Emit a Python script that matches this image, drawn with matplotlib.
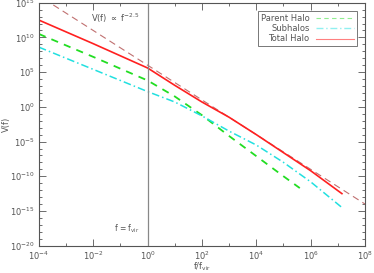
import numpy as np
import matplotlib
matplotlib.use('Agg')
import matplotlib.pyplot as plt
from matplotlib.lines import Line2D
from matplotlib.ticker import FixedLocator, LogFormatterSciNotation

# Valores (log10)
logf_total = [-4, -2, 0, 1, 2, 3, 4, 5, 6, 7.15]
logV_total = [12.5, 9.1, 5.6, 3.1, 0.7, -1.5, -4.0, -6.6, -9.2, -12.5]

logf_parent = [-4, -2, 0, 1, 2, 3, 4, 5, 5.6]
logV_parent = [10.5, 7.2, 3.8, 1.5, -1.2, -4.2, -7.1, -10.0, -11.7]

logf_sub = [-4, -2, 0, 1, 2, 3, 4, 5, 6, 7.15]
logV_sub = [8.6, 5.4, 2.2, 0.7, -1.3, -3.5, -5.5, -8.0, -10.8, -14.5]

# Ley de potencias de referencia V(f) ~ f^-2.5
logf_ref = [-4, 8]
logV_ref = [16.0, -14.0]

gray = '#555555'
plt.rcParams['font.family'] = ['DejaVu Sans']
plt.rcParams['font.size'] = 6

fig = plt.figure(figsize=(3.74, 2.73), dpi=100)
ax = fig.add_axes([0.104, 0.1, 0.872, 0.89])

def p(lx, ly):
    return 10.0 ** np.array(lx), 10.0 ** np.array(ly)

ax.plot(*p(logf_ref, logV_ref), color='#c07070', ls=(0, (6, 4)), lw=0.8)
ax.plot(*p(logf_parent, logV_parent), color='#22dd22', ls=(0, (4, 3.5)), lw=1.3)
ax.plot(*p(logf_sub, logV_sub), color='#22e0e0', ls=(0, (5, 2, 1, 2)), lw=1.1)
ax.plot(*p(logf_total, logV_total), color='#ff2020', lw=1.2)
ax.axvline(1.0, color='#888888', lw=0.9)

ax.set_xscale('log')
ax.set_yscale('log')
ax.set_xlim(1e-4, 1e8)
ax.set_ylim(1e-20, 1e15)

ax.xaxis.set_major_locator(FixedLocator([10.0 ** k for k in range(-4, 9, 2)]))
ax.xaxis.set_minor_locator(FixedLocator([10.0 ** k for k in range(-3, 8, 2)]))
ax.yaxis.set_major_locator(FixedLocator([10.0 ** k for k in range(-20, 16, 5)]))
ax.yaxis.set_minor_locator(FixedLocator([10.0 ** k for k in range(-20, 16)]))
ax.xaxis.set_major_formatter(LogFormatterSciNotation())
ax.yaxis.set_major_formatter(LogFormatterSciNotation())
ax.xaxis.set_minor_formatter(plt.NullFormatter())
ax.yaxis.set_minor_formatter(plt.NullFormatter())

ax.tick_params(which='both', direction='in', top=True, right=True, colors=gray,
               labelcolor=gray, labelsize=6, width=0.6)
ax.tick_params(which='major', length=5)
ax.tick_params(which='minor', length=2.5)
ax.tick_params(axis='x', pad=2.5)
ax.tick_params(axis='y', pad=3)
for s in ax.spines.values():
    s.set_color(gray)
    s.set_linewidth(0.8)

ax.set_xlabel(r'f/f$_{\rm vir}$', color=gray, fontsize=6)
ax.set_ylabel('V(f)', color=gray, fontsize=6)
ax.xaxis.set_label_coords(0.5, -0.062)
ax.yaxis.set_label_coords(-0.085, 0.5)

ax.text(0.5, 3e-19, r'f = f$_{\rm vir}$', color=gray, fontsize=5.5, ha='right', va='bottom')
ax.text(0.066, 10 ** 12.7, r'V(f) $\propto$ f$^{-2.5}$', color=gray, fontsize=6,
        ha='center', va='center')

handles = [
    Line2D([], [], color='#90ee90', ls=(0, (4, 3)), lw=0.8),
    Line2D([], [], color='#90f0f0', ls=(0, (5, 2, 1, 2)), lw=1.0),
    Line2D([], [], color='#ff8080', lw=0.8),
]
leg = ax.legend(handles, ['Parent Halo', 'Subhalos', 'Total Halo'], loc='upper right',
                markerfirst=False, fontsize=6, frameon=True, fancybox=False,
                edgecolor=gray, handlelength=4.5, borderaxespad=1.0,
                labelspacing=0.15, borderpad=0.35, labelcolor=gray)
leg.get_frame().set_linewidth(0.7)

fig.savefig('out.png', dpi=100)
